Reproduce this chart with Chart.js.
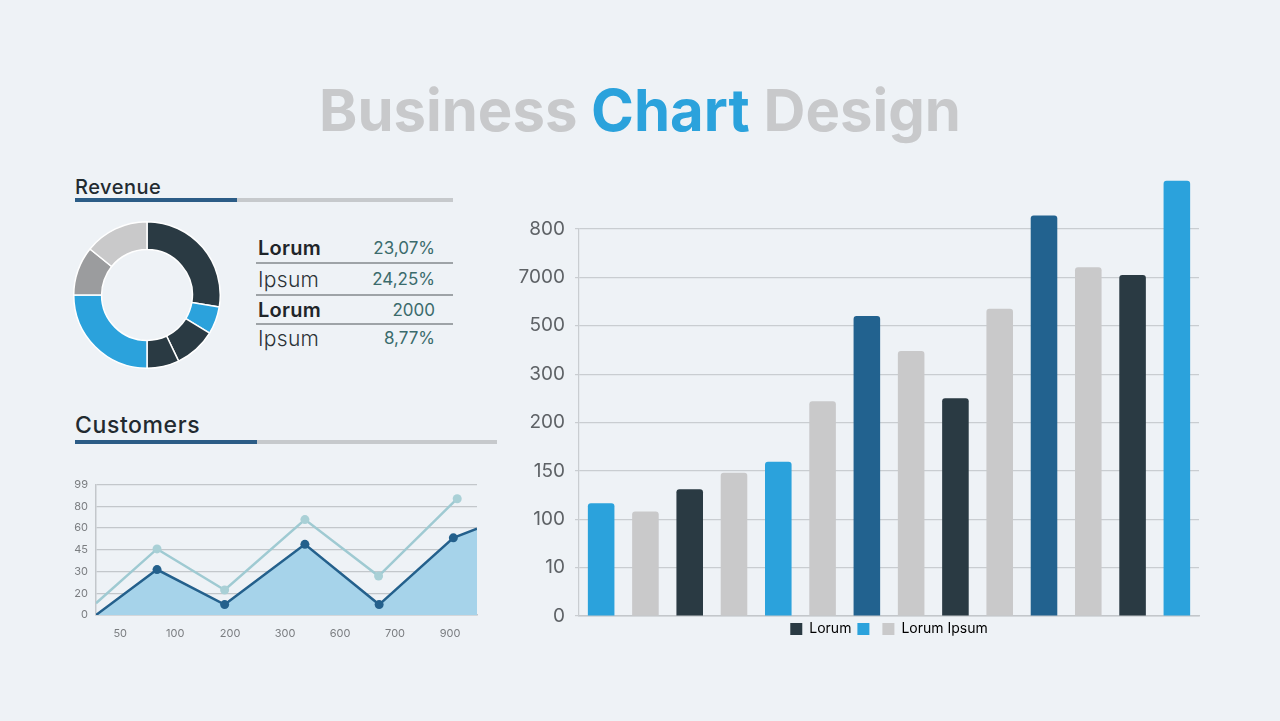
<!DOCTYPE html>
<html>
<head>
<meta charset="utf-8">
<script src="https://cdn.jsdelivr.net/npm/chart.js@4.4.0/dist/chart.umd.min.js"></script>
<style>
  body { margin: 0; width: 1280px; height: 721px; background: #eef2f6; font-family: Inter, "Open Sans", sans-serif; position: relative; overflow: hidden; }
  .abs { position: absolute; }
  #title { left: 0; width: 1280px; top: 75px; text-align: center; font-size: 58px; font-weight: 700; color: #c8c9cb; }
  #title span { color: #2ba2dc; }
  .head { color: #222a30; font-weight: 500; }
  .bar { height: 4px; background: #c6c9cc; }
  .bar div { height: 100%; background: #2b5c86; }
  #table { left: 256px; top: 234px; width: 197px; }
  .row { display: flex; justify-content: space-between; align-items: center; border-bottom: 2px solid #9ea3a7; padding-right: 18px; padding-left: 2px; }
  .row:last-child { border-bottom: none; }
  .row .n { font-size: 20px; color: #1f2529; letter-spacing: 0.3px; }
  .row .n.b { font-weight: 600; }
  .row .n.l { font-weight: 300; font-size: 21px; color: #2c3236; }
  .row .v { font-size: 17px; color: #3b6b6c; }
</style>
</head>
<body>
<div id="title" class="abs">Business <span>Chart</span> Design</div>

<div class="abs head" style="left:75px; top:175px; font-size:20px; letter-spacing:0.5px;">Revenue</div>
<div class="abs bar" style="left:75px; top:198px; width:378px;"><div style="width:162px"></div></div>
<div class="abs" style="left:73px; top:221px; width:148px; height:148px;"><canvas id="donut"></canvas></div>
<div id="table" class="abs"></div>

<div class="abs head" style="left:75px; top:411px; font-size:23px; letter-spacing:0.6px;">Customers</div>
<div class="abs bar" style="left:75px; top:440px; width:422px;"><div style="width:182px"></div></div>
<div class="abs" style="left:40px; top:470px; width:460px; height:175px;"><canvas id="customers"></canvas></div>

<div class="abs" style="left:500px; top:160px; width:780px; height:490px;"><canvas id="bars"></canvas></div>

<script>
// revenue donut
const donutNames = ['Lorum', 'Ipsum', 'Lorum', 'Ipsum', 'Lorum', 'Ipsum', 'Lorum'];
const donutValues = [27.6, 6.1, 9.2, 7.1, 25.0, 10.8, 14.2];
const donutColors = ['#2a3a43', '#2ba2dc', '#2a3a43', '#2a3a43', '#2ba2dc', '#9b9c9e', '#c9c9ca'];

// revenue table
const tableNames = ['Lorum', 'Ipsum', 'Lorum', 'Ipsum'];
const tableValues = ['23,07%', '24,25%', '2000', '8,77%'];

// customers line chart (x in label steps, y in tick steps)
const custXLabels = ['50', '100', '200', '300', '600', '700', '900'];
const custYLabels = ['0', '20', '30', '45', '60', '80', '99'];
const custDarkX = [-0.44, 0.67, 1.9, 3.36, 4.71, 6.06, 6.49];
const custDarkY = [0, 2.09, 0.48, 3.25, 0.48, 3.55, 3.97];
const custLightX = [-0.44, 0.67, 1.9, 3.36, 4.70, 6.13];
const custLightY = [0.54, 3.04, 1.15, 4.39, 1.79, 5.35];

// big bar chart (values in tick steps)
const barCategories = ['1', '2', '3', '4', '5', '6', '7', '8', '9', '10', '11', '12', '13', '14'];
const barYLabels = ['0', '10', '100', '150', '200', '300', '500', '7000', '800'];
const barValues = [2.33, 2.16, 2.62, 2.96, 3.19, 4.44, 6.20, 5.48, 4.50, 6.35, 8.28, 7.21, 7.05, 9.0];
const barGroups = ['blue', 'gray', 'dark', 'gray', 'blue', 'gray', 'navy', 'gray', 'dark', 'gray', 'navy', 'gray', 'dark', 'blue'];

const palette = { blue: '#2ba2dc', gray: '#c9c9ca', dark: '#2a3a43', navy: '#22628f' };

// table rows
const rowHeights = [28, 30, 27, 26];
const table = document.getElementById('table');
tableNames.forEach((name, i) => {
    const row = document.createElement('div');
    row.className = 'row';
    row.style.height = rowHeights[i] + 'px';
    row.innerHTML = '<span class="n ' + (i % 2 === 0 ? 'b' : 'l') + '">' + name + '</span><span class="v">' + tableValues[i] + '</span>';
    table.appendChild(row);
});

new Chart(document.getElementById('donut'), {
    type: 'doughnut',
    data: {
        labels: donutNames,
        datasets: [{
            data: donutValues,
            backgroundColor: donutColors,
            borderColor: '#ffffff',
            borderWidth: 1.5
        }]
    },
    options: {
        responsive: true,
        maintainAspectRatio: false,
        animation: false,
        cutout: '62%',
        plugins: { legend: { display: false }, tooltip: { enabled: false } }
    }
});

const smallTick = { size: 11, family: 'Inter' };

new Chart(document.getElementById('customers'), {
    type: 'line',
    data: {
        datasets: [{
            label: 'Dark',
            data: custDarkX.map((x, i) => ({ x: x, y: custDarkY[i] })),
            borderColor: '#24608c',
            borderWidth: 2.5,
            backgroundColor: '#a6d3ea',
            fill: 'origin',
            pointRadius: [0, 4.5, 4.5, 4.5, 4.5, 4.5, 0],
            pointBackgroundColor: '#24608c',
            pointBorderWidth: 0,
            tension: 0,
            order: 2
        }, {
            label: 'Light',
            data: custLightX.map((x, i) => ({ x: x, y: custLightY[i] })),
            borderColor: '#9fcad2',
            borderWidth: 2.5,
            fill: false,
            pointRadius: [0, 4.5, 4.5, 4.5, 4.5, 4.5],
            pointBackgroundColor: '#a9d0d6',
            pointBorderWidth: 0,
            tension: 0,
            order: 1
        }]
    },
    options: {
        responsive: true,
        maintainAspectRatio: false,
        animation: false,
        layout: { padding: { top: 12, right: 23, left: 0, bottom: 0 } },
        plugins: { legend: { display: false }, tooltip: { enabled: false } },
        scales: {
            x: {
                type: 'linear',
                min: -0.44,
                max: 6.49,
                afterBuildTicks: axis => { axis.ticks = custXLabels.map((_, i) => ({ value: i })); },
                afterFit: axis => { axis.height = 30; },
                ticks: { callback: v => custXLabels[v], color: '#7a7d80', font: smallTick, padding: 4, maxRotation: 0 },
                grid: { display: false },
                border: { color: '#c3c7cb', width: 1.5 }
            },
            y: {
                min: 0,
                max: 6,
                afterFit: axis => { axis.width = 56; },
                ticks: { stepSize: 1, callback: v => custYLabels[v], color: '#7a7d80', font: smallTick, padding: 8 },
                grid: { color: '#c3c7cb', lineWidth: 1.2, drawTicks: false },
                border: { color: '#c3c7cb', width: 1.5 }
            }
        }
    }
});

// centre the legend under the plot area instead of the whole canvas
const legendUnderArea = {
    id: 'legendUnderArea',
    beforeDraw(chart) {
        const lg = chart.legend;
        const shift = (chart.chartArea.left + chart.chartArea.right) / 2 - (lg.left + lg.right) / 2;
        lg.left += shift;
        lg.right += shift;
    }
};

new Chart(document.getElementById('bars'), {
    type: 'bar',
    data: {
        labels: barCategories,
        datasets: [{
            data: barValues,
            backgroundColor: barGroups.map(g => palette[g]),
            borderRadius: { topLeft: 3, topRight: 3 },
            borderSkipped: 'start',
            barPercentage: 0.6,
            categoryPercentage: 1,
            clip: false
        }]
    },
    plugins: [legendUnderArea],
    options: {
        responsive: true,
        maintainAspectRatio: false,
        animation: false,
        layout: { padding: { top: 69, right: 81, left: 0, bottom: 4 } },
        plugins: {
            tooltip: { enabled: false },
            legend: {
                position: 'bottom',
                labels: {
                    boxWidth: 12,
                    boxHeight: 12,
                    padding: 6,
                    color: '#555a5e',
                    font: { size: 14, family: 'Inter' },
                    generateLabels: () => [
                        { text: 'Lorum', fillStyle: palette.dark, strokeStyle: palette.dark, lineWidth: 0 },
                        { text: '', fillStyle: palette.blue, strokeStyle: palette.blue, lineWidth: 0 },
                        { text: 'Lorum Ipsum', fillStyle: palette.gray, strokeStyle: palette.gray, lineWidth: 0 }
                    ]
                }
            }
        },
        scales: {
            x: {
                ticks: { display: false },
                grid: { display: false },
                afterFit: axis => { axis.height = 0; },
                border: { color: '#c3c7cb', width: 1.5 }
            },
            y: {
                min: 0,
                max: 8,
                afterBuildTicks: axis => { axis.ticks = barYLabels.map((_, i) => ({ value: i })); },
                afterFit: axis => { axis.width = 79; },
                ticks: { callback: v => barYLabels[v], color: '#5e6266', font: { size: 19, family: 'Inter' }, padding: 10 },
                grid: { color: '#c9cdd1', lineWidth: 1.2, tickLength: 4 },
                border: { color: '#c9cdd1', width: 1.2 }
            }
        }
    }
});
</script>
</body>
</html>
